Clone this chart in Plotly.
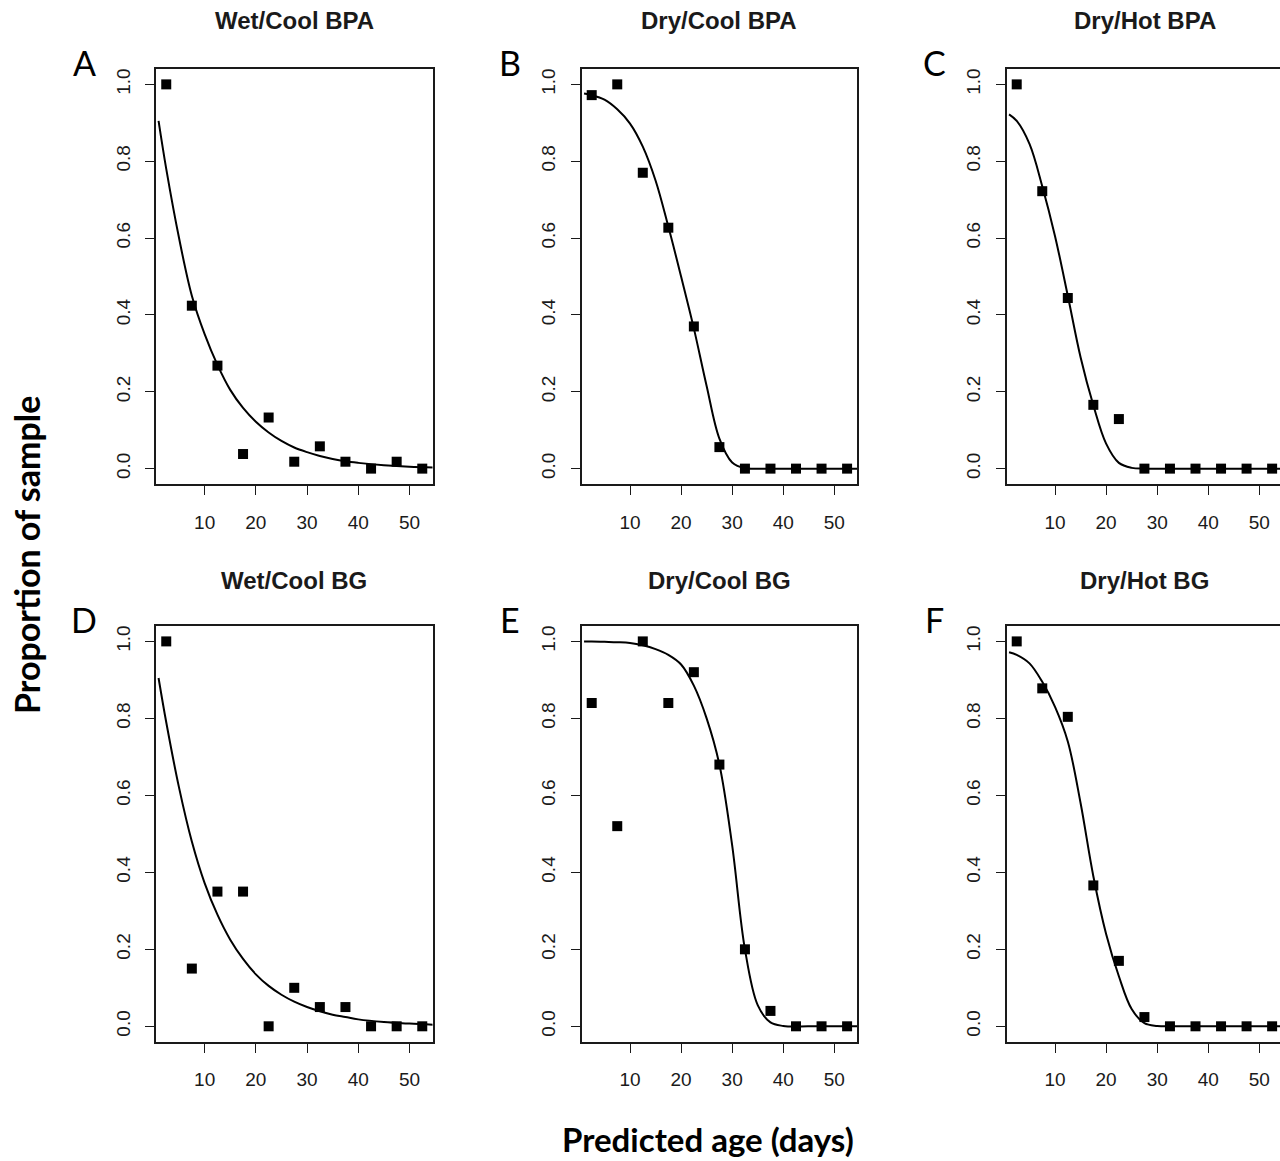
import plotly.graph_objects as go

W, H = 1280, 1161

# ---------------- data ----------------
age_bins = [2.5, 7.5, 12.5, 17.5, 22.5, 27.5, 32.5, 37.5, 42.5, 47.5, 52.5]

titles = ["Wet/Cool BPA", "Dry/Cool BPA", "Dry/Hot BPA",
          "Wet/Cool BG", "Dry/Cool BG", "Dry/Hot BG"]
letters = ["A", "B", "C", "D", "E", "F"]

prop_A = [1.0, 0.424, 0.268, 0.038, 0.133, 0.018, 0.058, 0.018, 0.0, 0.018, 0.0]
prop_B = [0.972, 1.0, 0.770, 0.627, 0.370, 0.056, 0.0, 0.0, 0.0, 0.0, 0.0]
prop_C = [1.0, 0.722, 0.444, 0.166, 0.129, 0.0, 0.0, 0.0, 0.0, 0.0, 0.0]
prop_D = [1.0, 0.15, 0.35, 0.35, 0.0, 0.10, 0.05, 0.05, 0.0, 0.0, 0.0]
prop_E = [0.84, 0.52, 1.0, 0.84, 0.92, 0.68, 0.20, 0.04, 0.0, 0.0, 0.0]
prop_F = [1.0, 0.878, 0.804, 0.366, 0.17, 0.024, 0.0, 0.0, 0.0, 0.0, 0.0]

# fitted curves, values
curve_x = [1, 2.5, 5, 7.5, 10, 12.5, 15, 17.5, 20, 22.5, 25, 27.5, 30,
           32.5, 35, 37.5, 40, 45, 50, 55]
fit_A = [0.905, 0.78, 0.60, 0.45, 0.35, 0.27, 0.205, 0.158, 0.122, 0.094,
         0.072, 0.055, 0.043, 0.033, 0.025, 0.019, 0.015, 0.009, 0.005, 0.003]
fit_B = [0.976, 0.972, 0.96, 0.935, 0.898, 0.838, 0.75, 0.63, 0.50, 0.365,
         0.215, 0.078, 0.016, 0.001, 0.0, 0.0, 0.0, 0.0, 0.0, 0.0]
fit_C = [0.922, 0.905, 0.845, 0.735, 0.605, 0.45, 0.29, 0.165, 0.065, 0.015,
         0.002, 0.0, 0.0, 0.0, 0.0, 0.0, 0.0, 0.0, 0.0, 0.0]
fit_D = [0.905, 0.79, 0.62, 0.48, 0.372, 0.29, 0.225, 0.175, 0.135, 0.105,
         0.082, 0.064, 0.05, 0.039, 0.03, 0.024, 0.018, 0.011, 0.007, 0.004]
fit_E = [1.0, 1.0, 0.999, 0.998, 0.996, 0.99, 0.98, 0.965, 0.94, 0.885,
         0.80, 0.68, 0.47, 0.20, 0.055, 0.01, 0.001, 0.0, 0.0, 0.0]
fit_F = [0.972, 0.965, 0.943, 0.895, 0.83, 0.74, 0.58, 0.39, 0.24, 0.13,
         0.045, 0.008, 0.001, 0.0, 0.0, 0.0, 0.0, 0.0, 0.0, 0.0]

y_ticks = [0.0, 0.2, 0.4, 0.6, 0.8, 1.0]
y_ticktext = ["0.0", "0.2", "0.4", "0.6", "0.8", "1.0"]
x_ticks = [10, 20, 30, 40, 50]

points = [prop_A, prop_B, prop_C, prop_D, prop_E, prop_F]
fits = [fit_A, fit_B, fit_C, fit_D, fit_E, fit_F]

# ---------------- layout geometry (pixels) ----------------
col_left = [156, 581.5, 1006.5]
col_right = [432.5, 857.3, 1280]
col_xmax = [54.5, 54.5, 0.5 + (1280 - 1006.5) / 5.108]
row_top = [69, 626]
row_bot = [484, 1041.7]

TICKFONT = dict(family="Liberation Sans, Arial, sans-serif", size=19, color="#1a1a1a")

fig = go.Figure()
layout = {}
annotations = []

for i in range(6):
    r, c = divmod(i, 3)
    n = i + 1
    xa = "x" if n == 1 else f"x{n}"
    ya = "y" if n == 1 else f"y{n}"
    fig.add_trace(go.Scatter(
        x=curve_x, y=fits[i], mode="lines",
        line=dict(color="black", width=2, shape="spline", smoothing=1.0),
        xaxis=xa, yaxis=ya, showlegend=False, hoverinfo="skip"))
    fig.add_trace(go.Scatter(
        x=age_bins, y=points[i], mode="markers",
        marker=dict(symbol="square", size=10, color="black", line=dict(width=0)),
        xaxis=xa, yaxis=ya, showlegend=False, cliponaxis=False))

    xkey = "xaxis" if n == 1 else f"xaxis{n}"
    ykey = "yaxis" if n == 1 else f"yaxis{n}"
    layout[xkey] = dict(
        domain=[col_left[c] / W, col_right[c] / W],
        range=[0.5, col_xmax[c]], anchor=ya,
        tickvals=x_ticks, ticks="outside", ticklen=9, tickwidth=1.3,
        tickcolor="#1a1a1a", showline=True, linecolor="#1a1a1a", linewidth=1.6,
        mirror=True, showgrid=False, zeroline=False, tickfont=TICKFONT,
        ticklabelstandoff=11, fixedrange=True)
    layout[ykey] = dict(
        domain=[1 - row_bot[r] / H, 1 - row_top[r] / H],
        range=[-0.04, 1.04], anchor=xa,
        tickvals=y_ticks, ticktext=y_ticktext, tickangle=-90,
        ticks="outside", ticklen=9, tickwidth=1.3, tickcolor="#1a1a1a",
        showline=True, linecolor="#1a1a1a", linewidth=1.6,
        mirror=(c < 2), showgrid=False, zeroline=False, tickfont=TICKFONT,
        ticklabelstandoff=8, fixedrange=True)

    # panel title
    title_x = (col_left[c] + 276.5 / 2) if c == 2 else (col_left[c] + col_right[c]) / 2
    title_y = 21 if r == 0 else 580
    annotations.append(dict(
        text=f"<b>{titles[i]}</b>", x=title_x / W, y=1 - title_y / H,
        xref="paper", yref="paper", xanchor="center", yanchor="middle",
        showarrow=False,
        font=dict(family="Liberation Sans, Arial, sans-serif", size=24, color="#1a1a1a")))
    # panel letter
    letter_y = 62 if r == 0 else 619
    annotations.append(dict(
        text=letters[i], x=(col_left[c] - 72) / W, y=1 - letter_y / H,
        xref="paper", yref="paper", xanchor="center", yanchor="middle",
        showarrow=False,
        font=dict(family="Lato, Open Sans, sans-serif", size=34, color="black")))

annotations.append(dict(
    text="<b>Proportion of sample</b>", x=26 / W, y=1 - 555 / H,
    xref="paper", yref="paper", xanchor="center", yanchor="middle",
    textangle=-90, showarrow=False,
    font=dict(family="Lato, Open Sans, sans-serif", size=34, color="black")))
annotations.append(dict(
    text="<b>Predicted age (days)</b>", x=708 / W, y=1 - 1139 / H,
    xref="paper", yref="paper", xanchor="center", yanchor="middle",
    showarrow=False,
    font=dict(family="Lato, Open Sans, sans-serif", size=33, color="black")))

fig.update_layout(
    width=W, height=H,
    margin=dict(l=0, r=0, t=0, b=0),
    paper_bgcolor="white", plot_bgcolor="white",
    annotations=annotations,
    **layout)

fig.write_html("out.html", config={"displayModeBar": False},
               post_script="document.body.style.margin='0';document.body.style.overflow='hidden';")
